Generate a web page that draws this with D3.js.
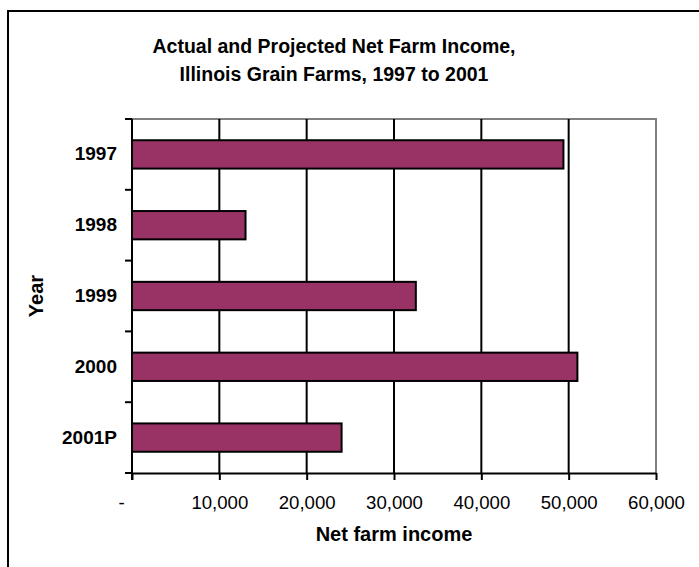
<!DOCTYPE html>
<html>
<head>
<meta charset="utf-8">
<script src="https://cdn.jsdelivr.net/npm/d3@7"></script>
<style>
  html, body { margin: 0; padding: 0; background: #fff; }
  svg { display: block; font-family: "Liberation Sans", Arial, sans-serif; }
</style>
</head>
<body>
<svg id="chart" width="699" height="567"></svg>
<script>
const years = ["1997", "1998", "1999", "2000", "2001P"];
const income = [49400, 13000, 32500, 51000, 24000];
const xTicks = [0, 10000, 20000, 30000, 40000, 50000, 60000];
const titleLines = ["Actual and Projected Net Farm Income,", "Illinois Grain Farms, 1997 to 2001"];
const xTitle = "Net farm income";
const yTitle = "Year";

const svg = d3.select("#chart");
const W = 699, H = 567;
const plot = { left: 132, right: 656, top: 119, bottom: 473 };

// outer border (top + left visible, extends past the frame)
svg.append("rect")
  .attr("x", 8).attr("y", 11)
  .attr("width", W + 20).attr("height", H + 20)
  .attr("fill", "none").attr("stroke", "#000").attr("stroke-width", 2);

const x = d3.scaleLinear().domain([0, 60000]).range([plot.left, plot.right]);
const y = d3.scaleBand().domain(years).range([plot.top, plot.bottom])
  .paddingInner(0.6).paddingOuter(0.3);
const yEdge = d3.scaleLinear().domain([0, years.length]).range([plot.top, plot.bottom]);

// plot frame (gray top/right)
svg.append("path")
  .attr("d", `M${x(0)},${plot.top}H${x(60000)}V${plot.bottom}`)
  .attr("fill", "none").attr("stroke", "#808080").attr("stroke-width", 2);

// gridlines
svg.append("g").selectAll("line")
  .data(xTicks.filter(d => d > 0 && d < 60000))
  .join("line")
  .attr("x1", d => x(d)).attr("x2", d => x(d))
  .attr("y1", plot.top).attr("y2", plot.bottom)
  .attr("stroke", "#000").attr("stroke-width", 2);

// bars
svg.append("g").selectAll("rect")
  .data(years.map((yr, i) => ({ yr, v: income[i] })))
  .join("rect")
  .attr("x", x(0))
  .attr("y", d => y(d.yr))
  .attr("width", d => x(d.v) - x(0))
  .attr("height", y.bandwidth())
  .attr("fill", "#993366")
  .attr("stroke", "#000").attr("stroke-width", 2);

// x axis
const fmt = d3.format(",");
const xAxis = svg.append("g")
  .attr("transform", `translate(0,${plot.bottom})`)
  .call(d3.axisBottom(x).tickValues(xTicks).tickSize(7).tickSizeOuter(0)
    .tickFormat(d => d === 0 ? "-" : fmt(d)));
xAxis.select(".domain").attr("stroke", "#000").attr("stroke-width", 2);
xAxis.selectAll(".tick line").attr("stroke", "#000").attr("stroke-width", 2);
xAxis.selectAll(".tick text")
  .attr("y", 23).attr("dy", "0.71em")
  .attr("font-size", 18.6).attr("fill", "#000")
  .attr("font-family", "Liberation Sans, Arial, sans-serif")
  .attr("dx", d => d === 0 ? -11 : 0);

// y axis (labels)
const yAxis = svg.append("g")
  .attr("transform", `translate(${plot.left},0)`)
  .call(d3.axisLeft(y).tickSize(0).tickPadding(15));
yAxis.select(".domain").remove();
yAxis.selectAll(".tick text")
  .attr("font-size", 19).attr("font-weight", "bold").attr("fill", "#000")
  .attr("font-family", "Liberation Sans, Arial, sans-serif");

// y axis line and boundary ticks
svg.append("line")
  .attr("x1", plot.left).attr("x2", plot.left)
  .attr("y1", plot.top).attr("y2", plot.bottom + 7)
  .attr("stroke", "#000").attr("stroke-width", 2);
svg.append("g").selectAll("line")
  .data(d3.range(years.length + 1))
  .join("line")
  .attr("x1", plot.left - 7).attr("x2", plot.left)
  .attr("y1", d => yEdge(d)).attr("y2", d => yEdge(d))
  .attr("stroke", "#000").attr("stroke-width", 2);

// titles
svg.append("g").selectAll("text")
  .data(titleLines)
  .join("text")
  .attr("x", 334).attr("y", (d, i) => 53 + i * 28)
  .attr("text-anchor", "middle")
  .attr("font-size", 19.5).attr("font-weight", "bold").attr("fill", "#000")
  .text(d => d);

svg.append("text")
  .attr("x", (plot.left + plot.right) / 2).attr("y", 541)
  .attr("text-anchor", "middle")
  .attr("font-size", 20).attr("font-weight", "bold")
  .text(xTitle);

svg.append("text")
  .attr("transform", `translate(43,${(plot.top + plot.bottom) / 2}) rotate(-90)`)
  .attr("text-anchor", "middle")
  .attr("font-size", 20).attr("font-weight", "bold")
  .text(yTitle);
</script>
</body>
</html>
